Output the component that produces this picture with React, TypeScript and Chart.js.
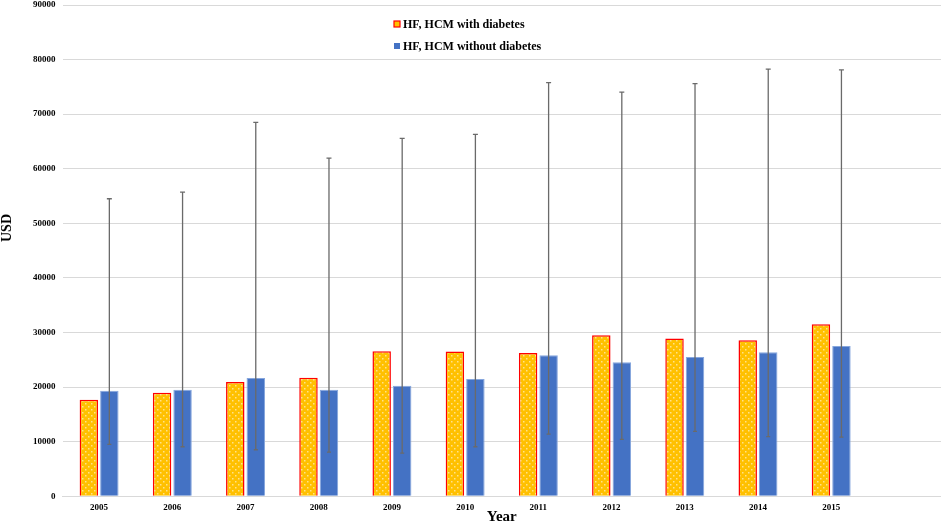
import React, { useEffect, useRef } from "react";
import { Chart, registerables } from "chart.js";

Chart.register(...registerables);

const categories = ["2005", "2006", "2007", "2008", "2009", "2010", "2011", "2012", "2013", "2014", "2015", ""];
const withDiabetes = [17690, 18970, 20920, 21720, 26550, 26500, 26240, 29490, 28880, 28570, 31500];
const withoutDiabetes = [19340, 19520, 21650, 19520, 20250, 21470, 25820, 24560, 25500, 26370, 27520];
const errLow = [9490, 9060, 8510, 8070, 7890, 9060, 11380, 10400, 11870, 10900, 10830];
const errHigh = [54500, 55720, 68510, 61960, 65570, 66310, 75780, 74020, 75600, 78240, 78110];
const yTicks = [0, 10000, 20000, 30000, 40000, 50000, 60000, 70000, 80000, 90000];

const FONT = "'Liberation Serif', 'Times New Roman', serif";

function makePattern(): CanvasPattern | string {
  const c = document.createElement("canvas");
  c.width = 6;
  c.height = 6;
  const g = c.getContext("2d");
  if (!g) return "#FFC000";
  g.fillStyle = "#FFC000";
  g.fillRect(0, 0, 6, 6);
  g.fillStyle = "#FFE28A";
  g.fillRect(1, 1, 1.5, 1.5);
  g.fillRect(4, 4, 1.5, 1.5);
  const p = g.createPattern(c, "repeat");
  return p || "#FFC000";
}

const errorBarPlugin = {
  id: "errorBars",
  afterDatasetsDraw(chart: any) {
    const meta = chart.getDatasetMeta(1);
    const y = chart.scales.y;
    const ctx = chart.ctx;
    ctx.save();
    ctx.strokeStyle = "#6a6a6a";
    ctx.lineWidth = 1.3;
    meta.data.forEach((bar: any, i: number) => {
      if (errLow[i] == null || errHigh[i] == null) return;
      const x = bar.x;
      const yl = y.getPixelForValue(errLow[i]);
      const yh = y.getPixelForValue(errHigh[i]);
      ctx.beginPath();
      ctx.moveTo(x, yl);
      ctx.lineTo(x, yh);
      ctx.moveTo(x - 2.5, yh);
      ctx.lineTo(x + 2.5, yh);
      ctx.moveTo(x - 2, yl);
      ctx.lineTo(x + 2, yl);
      ctx.stroke();
    });
    ctx.restore();
  },
};

const customTextPlugin = {
  id: "customText",
  afterDraw(chart: any) {
    const ctx = chart.ctx;
    const area = chart.chartArea;
    ctx.save();
    // Legend
    const ds = chart.data.datasets;
    const lx = 394;
    const lys = [24, 46];
    ctx.font = `bold 12px ${FONT}`;
    ctx.textBaseline = "middle";
    ctx.textAlign = "left";
    ds.forEach((d: any, i: number) => {
      const ly = lys[i];
      if (i === 0) {
        ctx.fillStyle = "#FFC000";
        ctx.fillRect(lx, ly - 3, 6, 6);
        ctx.strokeStyle = "#FF0000";
        ctx.lineWidth = 1.2;
        ctx.strokeRect(lx, ly - 3, 6, 6);
      } else {
        ctx.fillStyle = "#4472C4";
        ctx.fillRect(lx, ly - 3, 6, 6);
      }
      ctx.fillStyle = "#000";
      ctx.fillText(d.label, lx + 9, ly + 1);
    });
    // Axis titles
    ctx.font = `bold 14px ${FONT}`;
    ctx.textAlign = "center";
    ctx.textBaseline = "middle";
    ctx.fillStyle = "#000";
    ctx.save();
    ctx.translate(7, 228);
    ctx.rotate(-Math.PI / 2);
    ctx.fillText("USD", 0, 0);
    ctx.restore();
    ctx.font = `bold 15px ${FONT}`;
    ctx.textBaseline = "alphabetic";
    ctx.fillText("Year", (area.left + area.right) / 2, 521);
    ctx.restore();
  },
};

export default function App() {
  const ref = useRef<HTMLCanvasElement | null>(null);
  useEffect(() => {
    if (!ref.current) return;
    const pattern = makePattern();
    const chart = new Chart(ref.current, {
      type: "bar",
      data: {
        labels: categories,
        datasets: [
          {
            label: "HF, HCM with diabetes",
            data: withDiabetes,
            backgroundColor: pattern as any,
            borderColor: "#FF0000",
            borderWidth: 1.5,
            categoryPercentage: 0.56,
            barPercentage: 0.9,
          },
          {
            label: "HF, HCM without diabetes",
            data: withoutDiabetes,
            backgroundColor: "#4472C4",
            borderColor: "#86A6DD",
            borderWidth: 1,
            categoryPercentage: 0.56,
            barPercentage: 0.9,
          },
        ],
      },
      options: {
        animation: false,
        responsive: false,
        maintainAspectRatio: false,
        layout: { padding: { left: 26, right: 0, top: 5, bottom: 5 } },
        plugins: {
          legend: { display: false },
          tooltip: { enabled: false },
          title: { display: false },
        },
        scales: {
          x: {
            grid: { display: false, drawTicks: false },
            border: { display: true, color: "#d9d9d9" },
            ticks: {
              color: "#000",
              font: { family: FONT, size: 9, weight: "bold" },
              padding: 6,
              maxRotation: 0,
              autoSkip: false,
            },
          },
          y: {
            min: yTicks[0],
            max: yTicks[yTicks.length - 1],
            afterBuildTicks: (axis: any) => {
              axis.ticks = yTicks.map((v) => ({ value: v }));
            },
            afterFit: (s: any) => {
              s.paddingTop = 0;
            },
            grid: { color: "#d9d9d9", drawTicks: false, lineWidth: 1 },
            border: { display: false },
            ticks: {
              color: "#000",
              font: { family: FONT, size: 9, weight: "bold" },
              padding: 7,
              callback: (v: any) => String(v),
            },
          },
        },
      },
      plugins: [errorBarPlugin, customTextPlugin],
    });
    return () => chart.destroy();
  }, []);
  return (
    <div style={{ position: "absolute", left: 0, top: 0, width: 941, height: 524, background: "#fff" }}>
      <canvas ref={ref} width={941} height={524} style={{ width: 941, height: 524 }} />
    </div>
  );
}
